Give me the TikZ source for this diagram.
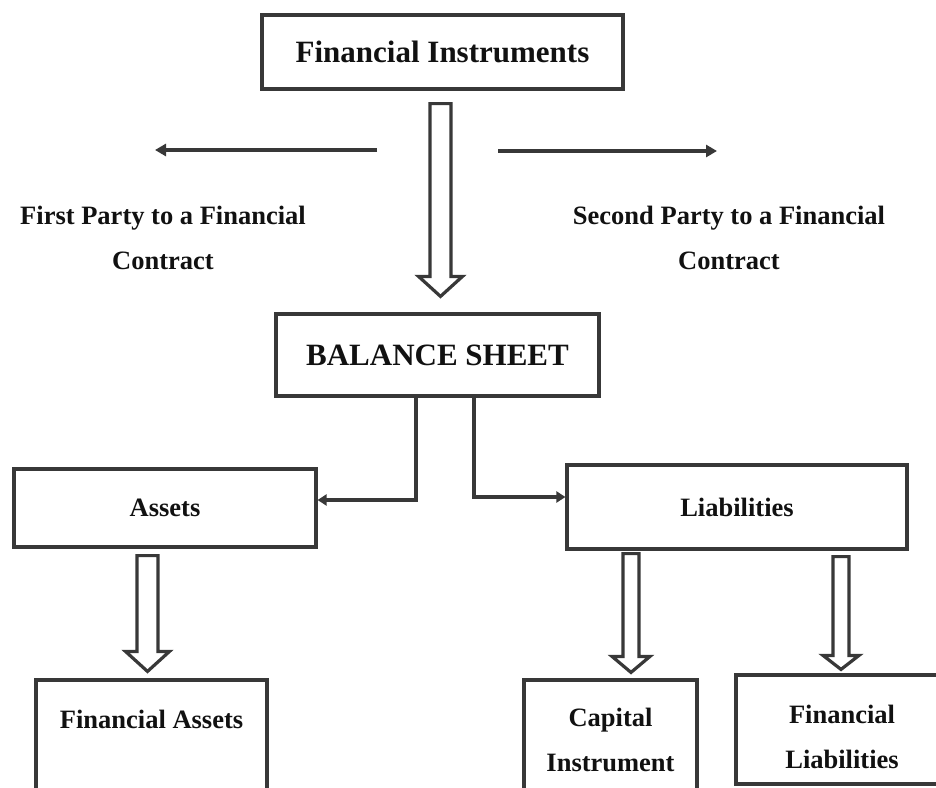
\documentclass[tikz,border=0pt]{standalone}
\usepackage{fontspec}
\setmainfont{Liberation Serif}
\usetikzlibrary{calc,arrows.meta}
\definecolor{lc}{HTML}{383838}
\definecolor{txt}{HTML}{111111}
\newcommand\holarrow[8]{%
  \draw[hol] let \p1=(#2.south), \p2=(#3.north) in
    ({#1pt-#6pt},{\y1-#4pt}) -- ({#1pt+#6pt},{\y1-#4pt})
    -- ({#1pt+#6pt},{\y2+#5pt+#8pt}) -- ({#1pt+#7pt},{\y2+#5pt+#8pt})
    -- (#1pt,{\y2+#5pt})
    -- ({#1pt-#7pt},{\y2+#5pt+#8pt}) -- ({#1pt-#6pt},{\y2+#5pt+#8pt}) -- cycle;}
\begin{document}
\begin{tikzpicture}[x=1pt,y=-1pt,
  box/.style={draw=lc, line width=3.2pt, rectangle, inner sep=0pt, text=txt,
    font=\bfseries\fontsize{26.5}{45}\selectfont, align=center},
  big/.style={font=\bfseries\fontsize{31}{37}\selectfont},
  conn/.style={draw=lc, line width=3.2pt, -{Triangle[length=9pt,width=11pt]}},
  side/.style={draw=lc, line width=3.2pt, -{Triangle[length=11pt,width=12pt]}},
  hol/.style={draw=lc, line width=3.2pt, fill=white, line join=miter},
  lbl/.style={font=\bfseries\fontsize{26.5}{45}\selectfont, align=center, text=txt}]
\useasboundingbox (0,0) rectangle (936,787);
\fill[white] (0,0) rectangle (936,787);
\clip (0,0) rectangle (936,787);

% boxes
\node[box, big, minimum width=361pt, minimum height=74pt] (fi) at (442.5,52) {Financial Instruments};
\node[box, big, minimum width=323pt, minimum height=82pt] (bs) at (437.5,355) {BALANCE SHEET};
\node[box, minimum width=302pt, minimum height=78pt] (as) at (165,508) {Assets};
\node[box, minimum width=340pt, minimum height=84pt] (li) at (737,507) {Liabilities};
\node[box, minimum width=231pt, minimum height=140pt] (fabox) at (151.5,750) {};
\node[lbl] (fa) at (151.5,719) {Financial Assets};
\node[box, minimum width=173pt, minimum height=120pt] (ci) at (610.5,740) {Capital\\Instrument};
\node[box, minimum width=209pt, minimum height=109pt] (fl) at (840.5,729.5) {};
\node[lbl] (flt) at (842,737) {Financial\\Liabilities};

% side labels
\node[lbl] (fp) at (163,237.5) {First Party to a Financial\\Contract};
\node[lbl] (sp) at (729,237.5) {Second Party to a Financial\\Contract};

% side arrows
\coordinate (l1) at (377,150);
\coordinate (l2) at (155,150);
\coordinate (r1) at (498,151);
\coordinate (r2) at (717,151);
\draw[side] (l1) -- (l2);
\draw[side] (r1) -- (r2);

% hollow arrows
\holarrow{440.5}{fi}{bs}{13}{16}{10.5}{22}{20}
\holarrow{147.5}{as}{fabox}{7}{7}{10.5}{22}{20}
\holarrow{631}{li}{ci}{3}{6}{8}{19}{16}
\holarrow{841}{li}{fl}{6}{4}{8}{18}{14}

% connectors from balance sheet
\draw[conn] ([xshift=-21.5pt]bs.south) |- ([yshift=8pt]as.east);
\draw[conn] ([xshift=36.5pt]bs.south) |- ([yshift=10pt]li.west);
\end{tikzpicture}
\end{document}
